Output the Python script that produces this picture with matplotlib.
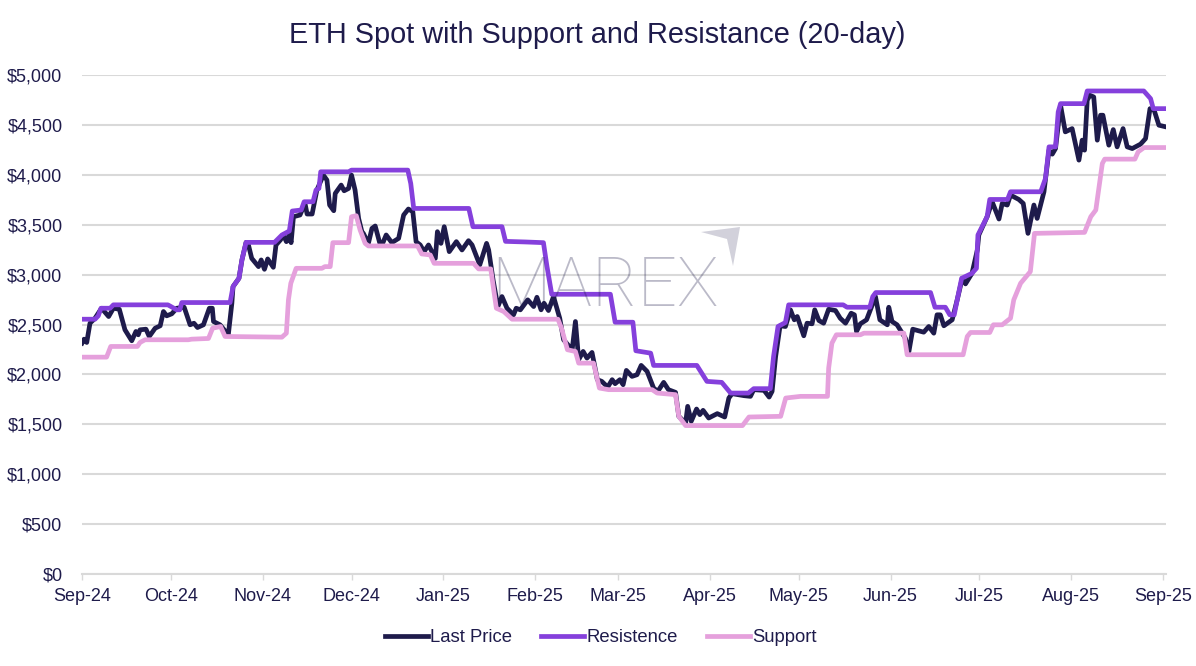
"""ETH spot with 20-day support and resistance."""

import matplotlib

matplotlib.use("Agg")
import matplotlib.dates as mdates
import matplotlib.pyplot as plt
import pandas as pd
from matplotlib.patches import Polygon
from matplotlib.ticker import FuncFormatter

START = pd.Timestamp("2024-09-01")

# days since START
price_days = [
    0, 0.7, 1.6, 2.7, 4.4, 6.6, 9, 10.6, 12.6, 14.5, 16.8, 18.2, 19, 19.6, 21.6, 22.7, 24.7, 26.4, 27.5, 28.6,
    30.3, 32, 34.5, 36.5, 37.8, 39, 41, 43, 44, 44.4, 46.6, 49.4, 50.6, 51, 53, 54, 55.4, 56.2, 57.3, 59.6,
    60.5, 61.6, 62.7, 64.6, 65.5, 67, 68, 69, 70, 70.6, 71.4, 73.6, 75.3, 76, 77.7, 79.3, 81.5, 82.7, 83.6, 85,
    85.5, 87.5, 88.5, 90, 91, 92.2, 93.4, 94.5, 95, 96.7, 97.9, 99, 100.5, 101.6, 102.7, 104.6, 106.9, 108.6,
    110.2, 111.7, 112.8, 114.2, 115.5, 117, 119.3, 120, 121.2, 122.3, 124, 126.4, 128.3, 130.5, 131.7, 134.3,
    136.6, 137.3, 138.8, 140.4, 141.8, 143.5, 145.7, 146.6, 148, 150.5, 152.5, 153.6, 155, 156, 157.5, 159.2,
    161.3, 162.6, 165.5, 166.6, 167.7, 169.2, 170.5, 172.2, 174, 175.5, 177.5, 179, 180, 181.6, 182.7, 183.8,
    185.7, 187.4, 188.8, 190.8, 193, 194.4, 196.4, 198, 200.4, 201.5, 203.8, 204.5, 205.7, 207.5, 208.6, 209.7,
    211.6, 214.5, 217, 218.4, 219.5, 223.5, 225.7, 226.8, 230.3, 232, 233, 234.2, 235.7, 237.5, 239.2, 240.5,
    241.5, 243.7, 244.8, 246.5, 247.4, 248.8, 250.4, 252.1, 254.4, 256, 257.8, 259.7, 260.8, 261.5, 262.8,
    264.9, 266.2, 267.9, 269.4, 271.9, 272.4, 273.5, 275.2, 278, 279.2, 280.5, 284.2, 285.9, 287.6, 288.7,
    289.8, 291, 293.8, 295.5, 297.2, 298.3, 300.5, 302.3, 302.8, 305.6, 307.3, 309.6, 310.7, 312.4, 313.5,
    316.3, 317.8, 319.4, 321.4, 322.5, 324.8, 326.5, 327.6, 328.7, 330.4, 332, 334.3, 336.6, 337.7, 338.5,
    339.4, 340.3, 341.6, 342.8, 343.9, 344.7, 346.7, 348.2, 349.5, 351.5, 352.9, 354.6, 357.4, 359.1, 360.6,
    362, 363.6, 366,
]
price_vals = [
    2313, 2353, 2320, 2513, 2563, 2663, 2580, 2663, 2653, 2447, 2337, 2430, 2397, 2447, 2453, 2380, 2463, 2487, 2630, 2587,
    2607, 2663, 2673, 2497, 2513, 2470, 2497, 2663, 2663, 2530, 2497, 2397, 2713, 2880, 2963, 3147, 3323, 3297, 3163, 3080,
    3147, 3053, 3157, 3073, 3297, 3347, 3397, 3330, 3400, 3320, 3580, 3597, 3713, 3607, 3607, 3847, 3997, 3947, 3697, 3640,
    3813, 3897, 3840, 3863, 3997, 3847, 3563, 3430, 3413, 3313, 3463, 3487, 3320, 3320, 3397, 3320, 3363, 3597,
    3657, 3630, 3330, 3297, 3230, 3297, 3163, 3430, 3313, 3480, 3230, 3330, 3247, 3340, 3297, 3097,
    3313, 3247, 2947, 2680, 2780, 2663, 2597, 2663, 2647, 2747, 2680, 2773, 2647, 2713, 2640, 2780,
    2563, 2347, 2247, 2530, 2147, 2230, 2163, 2220, 1947, 1930, 1873, 1947, 1907, 1947, 1897, 2040,
    1980, 1997, 2090, 2030, 1863, 1830, 1920, 1847, 1820, 1580, 1513, 1680, 1530, 1653, 1597, 1640,
    1563, 1607, 1573, 1763, 1807, 1787, 1780, 1847, 1840, 1773, 1830, 2180, 2487, 2480, 2647, 2547,
    2580, 2387, 2513, 2507, 2647, 2540, 2513, 2653, 2640, 2563, 2513, 2613, 2597, 2430, 2507,
    2547, 2647, 2780, 2547, 2497, 2673, 2530, 2497, 2363, 2230, 2453, 2423, 2480, 2413, 2597,
    2597, 2487, 2547, 2747, 2963, 2907, 3013, 3247, 3397, 3580, 3730, 3557, 3713, 3697, 3797,
    3753, 3713, 3413, 3697, 3563, 3830, 4247, 4207, 4263, 4697, 4430, 4463, 4147, 4347, 4247,
    4747, 4797, 4780, 4347, 4597, 4597, 4297, 4453, 4280, 4463, 4280, 4263, 4307, 4363, 4663,
    4647, 4497, 4480,
]

resist_days = [
    0, 4.4, 5.5, 6.4, 9.5, 10.6, 29, 32, 33, 33.7, 50, 51, 53, 54, 55.4, 65, 67.5, 70, 71, 74,
    75, 78, 79, 80, 80.6, 90, 91, 110, 111, 112, 130.6, 132, 141.8, 143, 149.7, 155.8, 157, 158.6, 178.4, 180,
    186, 187, 192, 193, 207.6, 211, 216, 219, 225, 226.8, 232.4, 233.5, 235, 237.5, 238.6, 257, 258.3, 266, 267, 268,
    286.5, 288, 291.5, 293, 294.5, 295.5, 297, 300.5, 302, 302.5, 305.6, 306.5, 312.5, 313.5, 323.7, 325.3, 326.5,
    328.7, 329.6, 330.4, 338.3, 339.4, 358.5, 360.8, 361.7, 366,
]
resist_vals = [
    2553, 2553, 2587, 2663, 2663, 2697, 2697, 2647, 2647, 2720, 2720, 2880, 2963, 3147, 3323, 3323, 3397, 3437, 3637, 3647,
    3730, 3730, 3847, 3863, 4030, 4030, 4047, 4047, 3913, 3663, 3663, 3480, 3480, 3333, 3327, 3320, 3080, 2803, 2803, 2523,
    2523, 2237, 2213, 2090, 2090, 1930, 1920, 1813, 1813, 1857, 1857, 2180, 2480, 2520, 2697, 2697, 2673, 2673, 2780, 2820,
    2820, 2673, 2673, 2597, 2597, 2747, 2963, 3013, 3063, 3397, 3580, 3753, 3753, 3830, 3830, 3963, 4280,
    4280, 4630, 4713, 4713, 4840, 4840, 4763, 4663, 4663,
]

support_days = [
    0, 8.3, 9.7, 18.7, 19.6, 21.3, 35.9, 37, 42.7, 44.1, 46.8, 48.3, 67.5, 69, 69.7, 70.5, 72.3, 81, 82, 83.8,
    84.7, 90, 91, 92.6, 93.9, 95.6, 96.7, 113.3, 114.7, 117.6, 118.9, 132.2, 133.9, 138, 139.9, 142.4, 145.2, 160.7,
    161.9, 163.9, 166.6, 167.7, 172.7, 174.7, 177.8, 192.5, 194.2, 200.4, 201.5, 203.8, 223, 225.2, 235.9, 237.6,
    242.6, 251.7, 252.1, 253.2, 254.7, 262.8, 264, 277.5, 278.6, 297.5, 298.9, 300, 306.5, 307.7, 310.7, 313.5,
    314.6, 316.9, 320.2, 321.6, 338.5, 340.6, 342.3, 344.5, 345.3, 355.5, 356.6, 358.6, 366,
]
support_vals = [
    2173, 2173, 2280, 2280, 2320, 2347, 2347, 2353, 2360, 2463, 2480, 2380, 2373, 2413, 2747, 2913, 3063, 3063, 3080, 3080,
    3320, 3320, 3580, 3590, 3447, 3313, 3287, 3287, 3207, 3197, 3113, 3113, 3057, 3057, 2663, 2630, 2553, 2553,
    2463, 2247, 2230, 2113, 2113, 1863, 1847, 1847, 1813, 1797, 1580, 1487, 1487, 1573, 1580, 1763,
    1780, 1780, 2063, 2313, 2397, 2397, 2413, 2413, 2197, 2197, 2380, 2420, 2420, 2497, 2497, 2563,
    2747, 2913, 3030, 3413, 3423, 3580, 3647, 4113, 4157, 4157, 4230, 4273, 4273,
]

NAVY = "#1E1B4B"
PURPLE = "#8540DC"
PINK = "#E5A0DC"
GRID = "#D9D9D9"


def to_dates(days):
    return START + pd.to_timedelta(days, unit="D")


plt.rcParams["font.family"] = ["Liberation Sans", "DejaVu Sans"]

fig = plt.figure(figsize=(11.96, 6.66), dpi=100)
ax = fig.add_axes([82 / 1196, 1 - 574 / 666, 1084 / 1196, 499 / 666])

ax.plot(to_dates(price_days), price_vals, color=NAVY, lw=3.4, label="Last Price")
ax.plot(to_dates(resist_days), resist_vals, color=PURPLE, lw=3.4, label="Resistence")
ax.plot(to_dates(support_days), support_vals, color=PINK, lw=3.4, label="Support")

ax.set_xlim(START, to_dates(366))
ax.set_ylim(0, 5000)
ax.set_yticks(range(0, 5001, 500))
ax.yaxis.set_major_formatter(FuncFormatter(lambda v, _: f"${v:,.0f}"))
ax.xaxis.set_major_locator(mdates.MonthLocator())
ax.xaxis.set_major_formatter(mdates.DateFormatter("%b-%y"))
ax.grid(True, axis="y", color=GRID, lw=1.5)
ax.set_axisbelow(True)
ax.tick_params(axis="y", length=0, labelsize=13, labelcolor=NAVY, pad=14)
ax.tick_params(axis="x", length=4, width=1, color=GRID, labelsize=13, labelcolor=NAVY, pad=6)
for side in ["top", "right", "left"]:
    ax.spines[side].set_visible(False)
ax.spines["bottom"].set_color(GRID)
ax.spines["bottom"].set_linewidth(1.5)

fig.text(597 / 1196, 1 - 35 / 666, "ETH Spot with Support and Resistance (20-day)",
         ha="center", va="center", fontsize=20.8, color=NAVY)

# watermark
fig.text(491 / 1196, 1 - 306 / 666, "MAREX", ha="left", va="baseline", fontsize=50,
         family=["Roboto", "DejaVu Sans"], weight="light", color=NAVY, alpha=0.3)
fig.add_artist(Polygon(
    [(701 / 1196, 1 - 232 / 666), (740 / 1196, 1 - 227 / 666), (733 / 1196, 1 - 266 / 666), (727 / 1196, 1 - 239 / 666)],
    closed=True, transform=fig.transFigure, facecolor=NAVY, edgecolor="none", alpha=0.2,
))

ax.legend(loc="center", bbox_to_anchor=(601 / 1196, 1 - 638 / 666), bbox_transform=fig.transFigure,
          ncol=3, frameon=False, fontsize=13.3, labelcolor=NAVY, handlelength=2.3,
          handletextpad=0.15, columnspacing=1.57)

fig.savefig("out.png", dpi=100)
plt.close(fig)
